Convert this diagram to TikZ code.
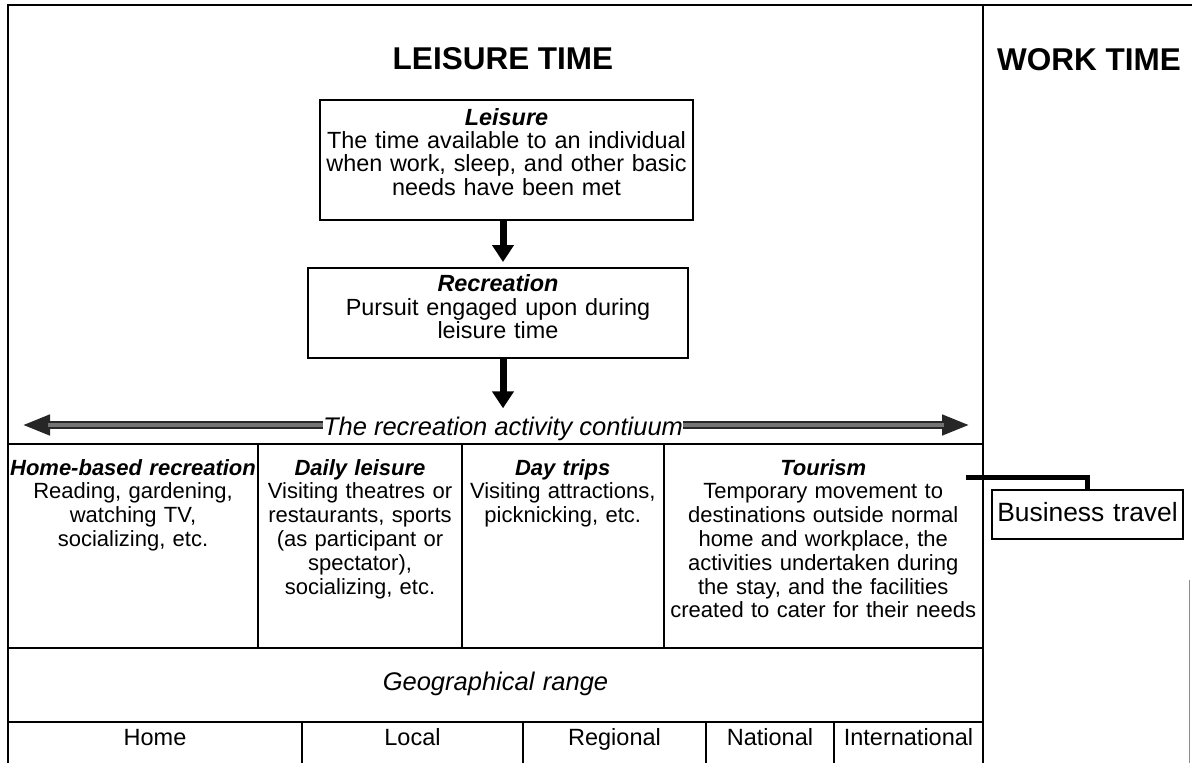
\documentclass[tikz,border=0pt]{standalone}
\usepackage{fontspec}
\setmainfont{Liberation Sans}
\usepackage{tikz}
\usetikzlibrary{arrows.meta}

\newcommand{\titlefont}{\fontsize{31.5}{36}\selectfont\bfseries}
\newcommand{\boxfont}{\fontsize{23.4}{23.4}\selectfont}
\newcommand{\bodyfont}{\fontsize{22}{23.8}\selectfont}
\newcommand{\rangefont}{\fontsize{25.5}{28}\selectfont\itshape}
\newcommand{\rowfont}{\fontsize{23.5}{26}\selectfont}
\newcommand{\btfont}{\fontsize{26.4}{30}\selectfont}

\tikzset{
	frame/.style={line width=2pt},
	box/.style={draw, line width=2pt, inner sep=0pt, align=center, anchor=base},
	cell/.style={draw, line width=2pt, inner sep=0pt, align=center, anchor=base, font=\bodyfont},
	flow/.style={line width=7pt, -{Triangle[length=17pt,width=21pt]}},
	contarrow/.style={line width=8pt, black!85, -{Triangle[length=28pt,width=19pt]}},
	contfill/.style={line width=4.5pt, black!55},
	link/.style={line width=5pt, line join=miter}
}

\begin{document}
\begin{tikzpicture}[x=1pt,y=-1pt]
	\useasboundingbox (0,0) rectangle (1192,763);

	% outer frame
	\draw[frame] (8,763) -- (8,5) -- (1192,5);
	\draw[frame] (983,5) -- (983,763);
	\draw[line width=1pt, black!45] (1189,580) -- (1189,763);

	\node[anchor=base, font=\titlefont] (leisuretime) at (503,69) {LEISURE TIME};
	\node[anchor=base, font=\titlefont] (worktime) at (1089,70) {WORK TIME};

	\node[box, font=\boxfont, text width=373pt, text height=25pt, text depth=95pt] (leisure) at (506.5,125)
		{\textbf{\textit{Leisure}}\\The time available to an individual\\when work, sleep, and other basic\\needs have been met};
	\node[box, font=\boxfont, text width=380pt, text height=23.7pt, text depth=66.3pt] (recreation) at (498,291.7)
		{\textbf{\textit{Recreation}}\\Pursuit engaged upon during\\leisure time};

	\node[anchor=base, font=\rangefont, inner sep=0pt] (continuum) at (503,435) {The recreation activity contiuum};

	\draw[flow, shorten >=5pt] (leisure.south -| continuum.north) -- (recreation.north -| continuum.north);
	\draw[flow, shorten >=8pt] (recreation.south -| continuum.north) -- (continuum.north);

	% the continuum, both ways
	\coordinate (contL) at (22,425);
	\coordinate (contR) at (970,425);
	\draw[contarrow] (continuum.west |- contL) -- (contL);
	\draw[contarrow] (continuum.east |- contL) -- (contR);
	\draw[contfill, shorten >=26pt] (continuum.west |- contL) -- (contL);
	\draw[contfill, shorten >=26pt] (continuum.east |- contL) -- (contR);

	% activity row
	\begin{scope}[every node/.append style={text height=31pt, text depth=173pt}]
		\node[cell, text width=250pt] (homebased) at (133,475)
			{\textbf{\textit{Home-based recreation}}\\Reading, gardening,\\watching TV,\\socializing, etc.};
		\node[cell, text width=204pt] (daily) at (360,475)
			{\textbf{\textit{Daily leisure}}\\Visiting theatres or\\restaurants, sports\\(as participant or\\spectator),\\socializing, etc.};
		\node[cell, text width=201.5pt] (daytrips) at (562.75,475)
			{\textbf{\textit{Day trips}}\\Visiting attractions,\\picknicking, etc.};
		\node[cell, text width=319.5pt] (tourism) at (823.25,475)
			{\textbf{\textit{Tourism}}\\Temporary movement to\\destinations outside normal\\home and workplace, the\\activities undertaken during\\the stay, and the facilities\\created to cater for their needs};
	\end{scope}

	\node[cell, font=\rangefont, text width=975pt, text height=42pt, text depth=32pt] (range) at (495.5,690) {Geographical range};

	\foreach \name/\lbl/\xa/\xb in {home/Home/8/302, local/Local/302/523, regional/Regional/523/706,
			national/National/706/834, international/International/834/983} {
		\pgfmathsetmacro{\xc}{(\xa+\xb)/2}
		\pgfmathsetmacro{\w}{\xb-\xa}
		\node[cell, font=\rowfont, text width=\w pt, text height=23pt, text depth=35pt] (\name) at (\xc,745) {\lbl};
	}

	\node[box, line width=1.5pt, font=\btfont, text width=191pt, text height=31.7pt, text depth=17.3pt] (business) at (1087.5,521.7) {Business travel};
	\coordinate (linkstart) at (966,477);
	\draw[link] (linkstart) -| (business.north);
\end{tikzpicture}
\end{document}
